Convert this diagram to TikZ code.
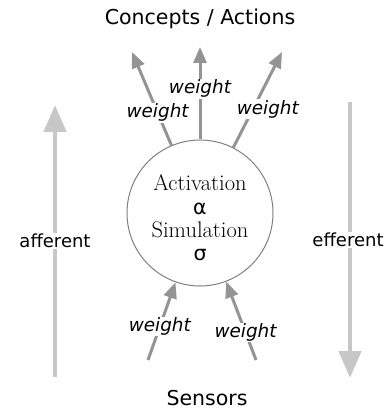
\documentclass[tikz,border=0pt]{standalone}
\usepackage{fontspec}
\setsansfont{DejaVu Sans}[ItalicFont={DejaVu Sans Oblique}]
\newfontfamily\greekfont{DejaVu Sans}
\usetikzlibrary{arrows.meta}

\begin{document}
\begin{tikzpicture}[x=1pt, y=-1pt,
  title/.style={font=\sffamily\fontsize{20.5}{24}\selectfont, anchor=base, inner sep=0pt},
  wlab/.style={font=\sffamily\itshape\fontsize{18.4}{22}\selectfont, fill=white, inner sep=1pt},
  flowlab/.style={font=\sffamily\fontsize{18}{22}\selectfont, fill=white, inner sep=1.5pt},
  core/.style={circle, draw=black!50, line width=1pt, minimum size=146pt, inner sep=0pt},
  coretxt/.style={align=center, font=\fontsize{22.5}{23.3}\selectfont, inner sep=0pt},
  weight/.style={draw=black!42, line width=3pt, -{Triangle[width=13pt,length=16pt]}},
  flow/.style={draw=black!22, line width=4.5pt, -{Triangle[width=22pt,length=27pt]}}]
\useasboundingbox (0,0) rectangle (391,411);
\node[title] (concepts) at (200,25) {Concepts / Actions};
\node[title] (sensors) at (207,405) {Sensors};
\node[core] (core) at (200,213) {};
\node[coretxt] (coretxt) at (200,218)
  {Activation\\{\greekfont\fontsize{20.5}{23.3}\selectfont α}\\Simulation\\{\greekfont\fontsize{20.5}{23.3}\selectfont σ}};
% outgoing weights
\coordinate (outL) at (132,52);
\coordinate (outM) at (200,47);
\coordinate (outR) at (282,52);
\draw[weight] (core) -- (outL) node[wlab, pos=0.35] {weight};
\draw[weight] (core) -- (outM) node[wlab, pos=0.55] {weight};
\draw[weight] (core) -- (outR) node[wlab, pos=0.4, xshift=15pt] {weight};
% incoming weights
\coordinate (inL) at (148,360);
\coordinate (inR) at (256,360);
\draw[weight] (inL) -- (core) node[wlab, pos=0.43] {weight};
\draw[weight] (inR) -- (core) node[wlab, pos=0.35] {weight};
% afferent / efferent
\coordinate (affS) at (55,377);
\coordinate (affE) at (55,105);
\coordinate (effS) at (350,102);
\coordinate (effE) at (350,378);
\draw[flow] (affS) -- (affE) node[flowlab, midway] {afferent};
\draw[flow] (effS) -- (effE) node[flowlab, midway, xshift=-2pt] {efferent};
\end{tikzpicture}
\end{document}
